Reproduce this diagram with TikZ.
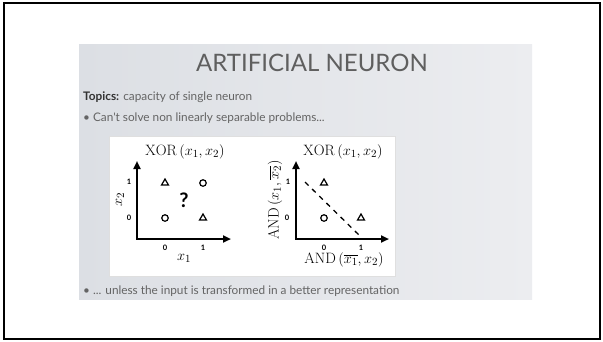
\documentclass[tikz,border=0pt]{standalone}
\usepackage{fontspec}
\usepackage{amsmath}
\newfontfamily\slidefont{Lato}
\usetikzlibrary{positioning,arrows.meta,shapes.geometric}

\definecolor{slideL}{RGB}{220,223,228}
\definecolor{slideR}{RGB}{236,237,240}
\definecolor{titlegray}{RGB}{95,95,95}
\definecolor{bodygray}{RGB}{100,100,100}

\begin{document}
\begin{tikzpicture}[
  x=1pt, y=-1pt,
  >={Triangle[length=8pt, width=7pt]},
  axis/.style={line width=2pt, ->},
  ptcirc/.style={circle, draw, line width=1.2pt, minimum size=6.5pt, inner sep=0pt},
  pttri/.style={regular polygon, regular polygon sides=3, draw, line width=1.2pt, minimum size=8pt, inner sep=0pt},
  ticklab/.style={font=\slidefont\bfseries\fontsize{7.5}{8}\selectfont, inner sep=0pt},
  plotlab/.style={font=\fontsize{15}{17}\selectfont, inner sep=0pt},
  bodytext/.style={font=\slidefont\fontsize{11.8}{13}\selectfont, text=bodygray, anchor=west, inner sep=0pt}
]
  \useasboundingbox (0,0) rectangle (603,341);
  % Frame and slide
  \draw[line width=2.2pt, fill=white] (4,3) rectangle (600,339);
  \shade[left color=slideL, right color=slideR] (79,44) rectangle (532,299);

  % Title and bullets
  \node[font=\slidefont\fontsize{24}{28}\selectfont, text=titlegray, inner sep=0pt] (title) at (312,63) {ARTIFICIAL NEURON};
  \node[bodytext] (topics) at (83,97) {\textcolor{black!80}{\bfseries Topics:} capacity of single neuron};
  \node[bodytext] (bul1) at (83,118) {\textbullet\ Can't solve non linearly separable problems...};
  \node[bodytext] (bul2) at (83,291) {\textbullet\ ... unless the input is transformed in a better representation};

  % White panel
  \draw[draw=gray!25, fill=white] (109,136) rectangle (395,276);

  % Left plot: XOR in (x1, x2)
  \coordinate (Lo) at (137,239);
  \coordinate (Ly) at (137,161);
  \coordinate (Lx) at (231,239);
  \draw[axis] (Lo) -- (Ly);
  \draw[axis] ([xshift=-1pt]Lo) -- (Lx);
  \node[plotlab] (Ltitle) at (185,152) {$\mathrm{XOR}\,(x_1,x_2)$};
  \node[plotlab, rotate=90] (Lylab) at (120,200) {$x_2$};
  \node[plotlab] (Lxlab) at (184,258) {$x_1$};
  \node[ticklab] (Ly1) at (129,182) {1};
  \node[ticklab] (Ly0) at (129,218) {0};
  \node[ticklab] (Lx0) at (165,248) {0};
  \node[ticklab] (Lx1) at (203,248) {1};
  \node[pttri]  (L01) at (165,183) {};
  \node[ptcirc] (L11) at (203,183) {};
  \node[ptcirc] (L00) at (165,218) {};
  \node[pttri]  (L10) at (203,218) {};
  \node[font=\slidefont\bfseries\fontsize{20}{22}\selectfont, inner sep=0pt] (qmark) at (184,200) {?};

  % Right plot: transformed representation
  \coordinate (Ro) at (296,239);
  \coordinate (Ry) at (296,161);
  \coordinate (Rx) at (389,239);
  \draw[axis] (Ro) -- (Ry);
  \draw[axis] ([xshift=-1pt]Ro) -- (Rx);
  \node[plotlab] (Rtitle) at (343,152) {$\mathrm{XOR}\,(x_1,x_2)$};
  \node[plotlab, rotate=90] (Rylab) at (275,200) {$\mathrm{AND}\,(x_1,\overline{x_2})$};
  \node[plotlab] (Rxlab) at (344,260) {$\mathrm{AND}\,(\overline{x_1},x_2)$};
  \node[ticklab] (Ry1) at (288,182) {1};
  \node[ticklab] (Ry0) at (287,218) {0};
  \node[ticklab] (Rx0) at (324,248) {0};
  \node[ticklab] (Rx1) at (361,248) {1};
  \node[pttri]  (R01) at (324,183) {};
  \node[ptcirc] (R00) at (324,218) {};
  \node[pttri]  (R10) at (361,218) {};
  \coordinate (d1) at (305,182);
  \coordinate (d2) at (361,237);
  \draw[line width=1.3pt, dash pattern=on 5pt off 5pt] (d1) -- (d2);
\end{tikzpicture}
\end{document}
